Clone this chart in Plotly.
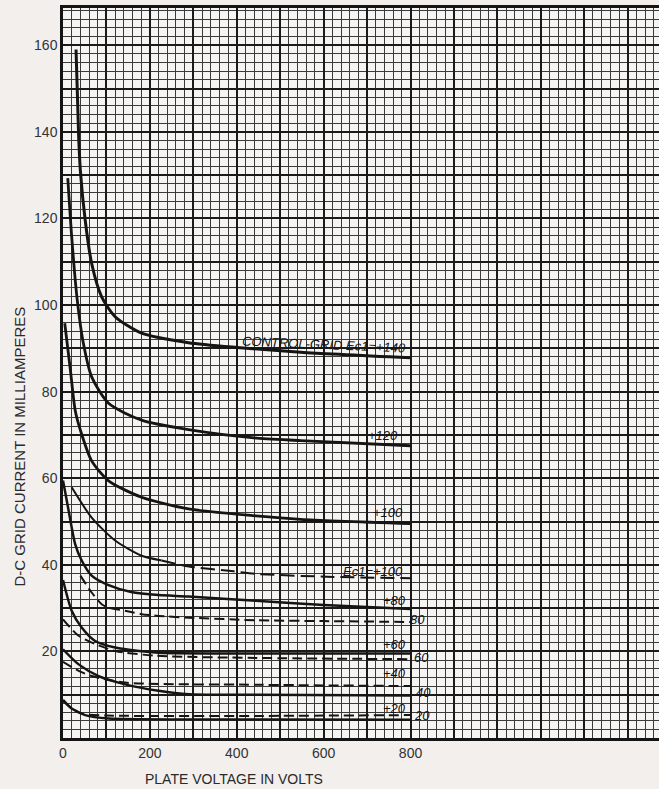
import plotly.graph_objects as go

# ---------------- data ----------------
# Solid curves: control-grid current for Ec1 = +140 ... +20
V_S140 = [30, 36, 40, 51, 66, 89, 120, 181, 289, 400, 547, 800]
I_S140 = [159, 139, 131, 119.7, 109.6, 101.9, 97.3, 93.5, 91.3, 90.2, 89.1, 87.8]

V_S120 = [11, 20, 32, 47, 66, 105, 181, 289, 440, 547, 800]
I_S120 = [129.3, 115.8, 101.9, 91.1, 83.4, 77.3, 73.4, 71.2, 69.3, 68.7, 67.5]

V_S100 = [4, 17, 28, 40, 66, 105, 181, 289, 444, 547, 800]
I_S100 = [95.8, 85, 75.7, 71.1, 64, 59.4, 55.6, 52.9, 51.3, 50.5, 49.5]

V_S80 = [0, 13, 28, 43, 66, 105, 157, 220, 289, 444, 600, 800]
I_S80 = [59.5, 52.5, 44.8, 41, 37.5, 35.3, 33.7, 33, 32.7, 31.7, 30.7, 29.8]

V_S60 = [0, 20, 43, 74, 120, 175, 220, 444, 800]
I_S60 = [36.5, 29.4, 25.5, 22.4, 20.9, 20.1, 19.7, 19.5, 19.5]

V_S40 = [0, 36, 82, 143, 220, 290, 444, 800]
I_S40 = [20.5, 17, 14.3, 12.4, 10.9, 10.1, 10, 9.8]

V_S20 = [0, 20, 51, 105, 300, 800]
I_S20 = [8.8, 6.8, 5.3, 4.5, 4.3, 4.2]

# Dashed curves
V_D100 = [20, 66, 120, 181, 227, 290, 393, 444, 623, 800]
I_D100 = [57.9, 50.9, 45.6, 42.1, 41, 39.6, 38.5, 37.9, 37.2, 36.9]

V_D80 = [40, 66, 89, 105, 143, 181, 220, 289, 444, 600, 800]
I_D80 = [37.5, 33.6, 30.9, 30.1, 29.4, 28.6, 28.2, 27.8, 27.2, 27, 26.8]

V_D60 = [0, 36, 74, 120, 213, 444, 800]
I_D60 = [27.4, 23.6, 21.7, 20.1, 19, 18.5, 18.2]

V_D40 = [0, 36, 66, 143, 444, 800]
I_D40 = [17.6, 15.5, 14.3, 12.8, 12.3, 12.0]

V_D20 = [0, 20, 45, 100, 444, 800]
I_D20 = [8.5, 6.9, 5.6, 5.2, 5.1, 5.3]

# Curve labels
LABEL_TEXT = ["CONTROL-GRID Ec1=+140", "+120", "+100", "Ec1=+100", "+80", "80",
              "+60", "60", "+40", "40", "+20", "20"]
LABEL_V = [601, 737, 748, 714, 764, 817, 764, 826, 764, 829, 762, 826]
LABEL_I = [90.9, 69.9, 52.1, 38.5, 31.7, 27.3, 21.5, 18.5, 14.9, 10.4, 6.8, 5.3]

# Tick labels
X_TICK_LABELS = ["0", "200", "400", "600", "800"]
Y_TICK_LABELS = ["20", "40", "60", "80", "100", "120", "140", "160"]

X_TITLE = "PLATE VOLTAGE IN VOLTS"
Y_TITLE = "D-C GRID CURRENT IN MILLIAMPERES"

# ---------------- figure ----------------
INK = "#141414"
FONT = "Liberation Sans, Arial, sans-serif"
fig = go.Figure()

solid = [(V_S140, I_S140, 3.0), (V_S120, I_S120, 2.8), (V_S100, I_S100, 2.8),
         (V_S80, I_S80, 2.5), (V_S60, I_S60, 2.5), (V_S40, I_S40, 2.4),
         (V_S20, I_S20, 2.4)]
for vx, iy, w in solid:
    fig.add_trace(go.Scatter(x=vx, y=iy, mode="lines",
                             line=dict(color=INK, width=w, shape="spline", smoothing=0.7),
                             hoverinfo="skip", showlegend=False))

# Ec1=+100 dashed curve: first part drawn continuous, then dashed
fig.add_trace(go.Scatter(x=V_D100[:5], y=I_D100[:5], mode="lines",
                         line=dict(color=INK, width=2.0, shape="spline", smoothing=0.7),
                         hoverinfo="skip", showlegend=False))
fig.add_trace(go.Scatter(x=V_D100[4:], y=I_D100[4:], mode="lines",
                         line=dict(color=INK, width=2.0, dash="14px,6px",
                                   shape="spline", smoothing=0.7),
                         hoverinfo="skip", showlegend=False))

for vx, iy in [(V_D80, I_D80), (V_D60, I_D60), (V_D40, I_D40), (V_D20, I_D20)]:
    fig.add_trace(go.Scatter(x=vx, y=iy, mode="lines",
                             line=dict(color=INK, width=2.0, dash="10px,5px",
                                       shape="spline", smoothing=0.7),
                             hoverinfo="skip", showlegend=False))

for txt, vx, iy in zip(LABEL_TEXT, LABEL_V, LABEL_I):
    fig.add_annotation(x=vx, y=iy, xref="x", yref="y", text="<i>" + txt + "</i>",
                       showarrow=False, xanchor="center", yanchor="middle",
                       textangle=2.5 if txt.startswith("CONTROL") else 0,
                       font=dict(family=FONT, size=13, color=INK))

# axis titles
fig.add_annotation(x=-0.0738, y=0.3993, xref="paper", yref="paper", text=Y_TITLE,
                   textangle=-90, showarrow=False, xanchor="center", yanchor="middle",
                   font=dict(family=FONT, size=15, color="#2a2a2a"))
fig.add_annotation(x=0.2869, y=-0.0562, xref="paper", yref="paper", text=X_TITLE,
                   showarrow=False, xanchor="center", yanchor="middle",
                   font=dict(family=FONT, size=14, color="#2a2a2a"))

XMAX = 1372
YMAX = 168.6
x_major = list(range(0, XMAX, 100))
x_text = [str(v) if str(v) in X_TICK_LABELS else "" for v in x_major]
y_major = list(range(0, int(YMAX), 10))
y_text = [str(v) if str(v) in Y_TICK_LABELS else "" for v in y_major]

MINOR_C = "#3a3a3a"
MAJOR_C = "#1a1a1a"
tick_font = dict(family=FONT, size=14, color="#333333")

fig.update_xaxes(range=[0, XMAX], tickmode="array", tickvals=x_major, ticktext=x_text,
                 showgrid=True, gridcolor=MAJOR_C, gridwidth=2,
                 minor=dict(dtick=20, tick0=0, showgrid=True, gridcolor=MINOR_C,
                            gridwidth=1.4, ticks=""),
                 ticks="", showline=True, linecolor=INK, linewidth=2.5, mirror=True,
                 zeroline=False, tickfont=tick_font, fixedrange=True)
fig.update_yaxes(range=[0, YMAX], tickmode="array", tickvals=y_major, ticktext=y_text,
                 showgrid=True, gridcolor=MAJOR_C, gridwidth=2,
                 minor=dict(dtick=2, tick0=0, showgrid=True, gridcolor=MINOR_C,
                            gridwidth=1.4, ticks=""),
                 ticks="", showline=True, linecolor=INK, linewidth=2.5, mirror=False,
                 zeroline=False, tickfont=tick_font, fixedrange=True)

fig.update_layout(width=659, height=789,
                  margin=dict(l=63, r=0, t=8, b=51, pad=0),
                  paper_bgcolor="#f2efed", plot_bgcolor="#f6f4f2",
                  showlegend=False)

fig.write_html("out.html", config={"displayModeBar": False},
               post_script="document.body.style.margin='0';"
                           "document.body.style.overflow='hidden';"
                           "document.body.style.background='#f2efed';")
